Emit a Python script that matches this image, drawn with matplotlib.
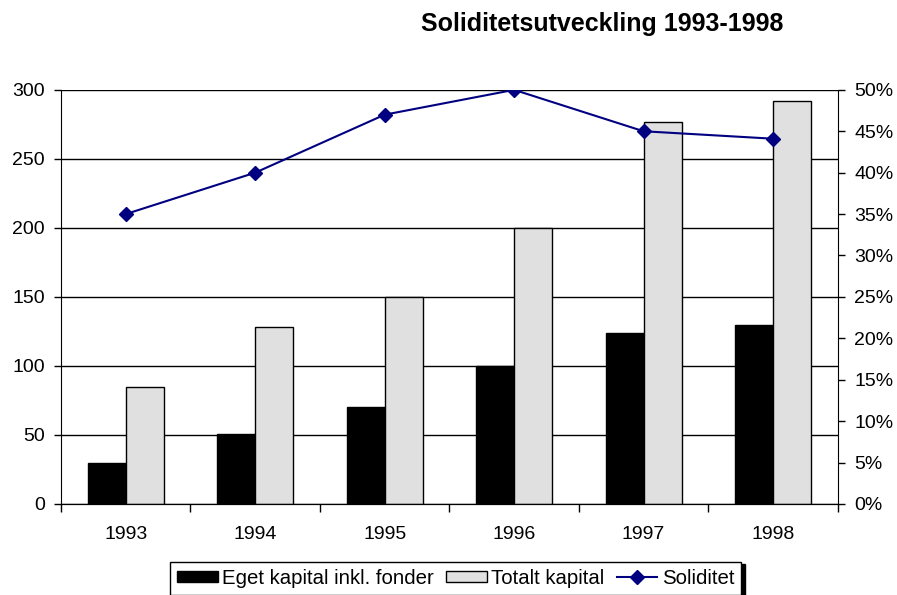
import numpy as np
from matplotlib import pyplot as plt
from matplotlib.ticker import FuncFormatter, MultipleLocator

years = ["1993", "1994", "1995", "1996", "1997", "1998"]
eget_kapital = [30, 51, 70, 100, 124, 130]
totalt_kapital = [85, 128, 150, 200, 277, 292]
soliditet = [0.35, 0.40, 0.47, 0.50, 0.45, 0.441]

plt.rcParams['font.family'] = ['Liberation Sans', 'DejaVu Sans']

fig = plt.figure(figsize=(8.97, 5.95), dpi=100)
ax = fig.add_axes([0.068, 0.153, 0.866, 0.696])
x = np.arange(len(years))
w = 0.293

ax.set_axisbelow(True)
ax.yaxis.grid(True, color="black", linewidth=1)
b1 = ax.bar(x - w / 2, eget_kapital, w, color="black", edgecolor="black",
            linewidth=1, label="Eget kapital inkl. fonder", zorder=2)
b2 = ax.bar(x + w / 2, totalt_kapital, w, color="#e0e0e0", edgecolor="black",
            linewidth=1, label="Totalt kapital", zorder=2)

ax.set_xlim(-0.5, len(years) - 0.5)
ax.set_ylim(0, 300)
ax.set_yticks(range(0, 301, 50))
ax.set_xticks(x)
ax.set_xticklabels(years)
ax.set_xticks(np.arange(-0.5, len(years)), minor=True)
ax.tick_params(axis="x", which="major", length=0, pad=16, labelsize=14)
ax.tick_params(axis="x", which="minor", length=6, direction="out", width=1)
ax.tick_params(axis="y", length=5, width=1, labelsize=14, pad=6.5)
ax.spines["top"].set_visible(False)
ax.spines["right"].set_visible(False)

ax2 = ax.twinx()
ax2.set_position(ax.get_position())
line, = ax2.plot(x, soliditet, color="#000080", marker="D", markersize=7,
                 linewidth=1.5, label="Soliditet", zorder=5)
ax2.set_ylim(0, 0.5)
ax2.yaxis.set_major_locator(MultipleLocator(0.05))
ax2.yaxis.set_major_formatter(FuncFormatter(lambda v, p: f"{v * 100:.0f}%"))
ax2.tick_params(axis="y", length=5, width=1, labelsize=14, pad=7)
ax2.spines["top"].set_visible(False)
ax2.spines["left"].set_visible(False)

fig.text(0.671, 0.96, "Soliditetsutveckling 1993-1998", ha="center",
         va="center", fontsize=18, fontweight="bold")

leg = fig.legend([b1, b2, line], ["Eget kapital inkl. fonder", "Totalt kapital", "Soliditet"],
                 loc="center", bbox_to_anchor=(0.508, 0.028), ncol=3,
                 fontsize=14.7, frameon=True, fancybox=False, edgecolor="black",
                 shadow={"color": "black", "alpha": 1, "ox": 3, "oy": -2},
                 handlelength=2.0, handleheight=0.5, columnspacing=0.6,
                 handletextpad=0.2, borderpad=0.35, borderaxespad=0)
leg.get_frame().set_linewidth(1)

plt.savefig("out.png", dpi=100)
